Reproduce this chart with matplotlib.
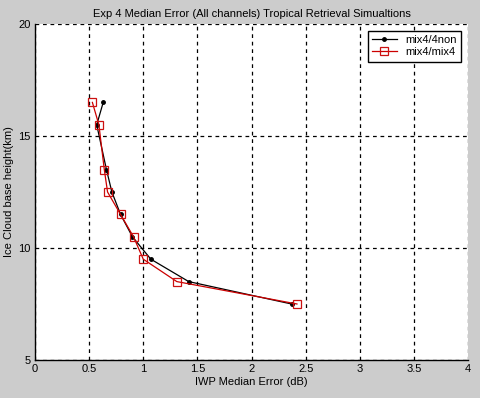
import matplotlib
matplotlib.use('Agg')
import matplotlib.pyplot as plt

# Ice cloud base heights (km) and median IWP errors (dB)
height = [16.5, 15.5, 13.5, 12.5, 11.5, 10.5, 9.5, 8.5, 7.5]
err_4non = [0.63, 0.57, 0.66, 0.71, 0.79, 0.90, 1.07, 1.42, 2.37]
err_mix4 = [0.53, 0.59, 0.64, 0.67, 0.79, 0.91, 1.00, 1.31, 2.42]

x_ticks = [0, 0.5, 1, 1.5, 2, 2.5, 3, 3.5, 4]
x_labels = ['0', '0.5', '1', '1.5', '2', '2.5', '3', '3.5', '4']
y_ticks = [5, 10, 15, 20]

plt.rcParams['font.family'] = ['Liberation Sans', 'DejaVu Sans']
plt.rcParams['font.size'] = 8

fig = plt.figure(figsize=(4.81, 3.98), dpi=100, facecolor='#cccccc')
ax = fig.add_axes([0.0728, 0.0955, 0.9002, 0.8442])
ax.set_facecolor('white')

ax.plot(err_4non, height, color='black', marker='.', markersize=5, lw=0.9,
        label='mix4/4non')
ax.plot(err_mix4, height, color='#cc0000', marker='s', markersize=5.5, lw=0.9,
        markerfacecolor='none', markeredgecolor='#cc1111', markeredgewidth=0.9,
        label='mix4/mix4')

ax.set_xlim(0, 4)
ax.set_ylim(5, 20)
ax.set_xticks(x_ticks)
ax.set_xticklabels(x_labels)
ax.set_yticks(y_ticks)
ax.tick_params(length=0, pad=3, labelsize=8)

ax.grid(True, color='black', linestyle=(0, (3, 3)), linewidth=0.9)
ax.spines['top'].set_visible(False)
ax.spines['right'].set_visible(False)
ax.spines['left'].set_linewidth(1.0)
ax.spines['bottom'].set_linewidth(1.0)

ax.set_title('Exp 4 Median Error (All channels) Tropical Retrieval Simualtions',
             fontsize=8, pad=5)
ax.set_xlabel('IWP Median Error (dB)', fontsize=8, labelpad=2)
ax.set_ylabel('Ice Cloud base height(km)', fontsize=8, labelpad=3)

leg = ax.legend(loc='upper right', fontsize=8, frameon=True, fancybox=False,
                edgecolor='black', borderaxespad=0.6, handlelength=2.2,
                labelspacing=0.2, borderpad=0.4)
leg.get_frame().set_linewidth(1.0)
leg.get_frame().set_alpha(1)

fig.savefig('out.png', dpi=100, facecolor=fig.get_facecolor())
